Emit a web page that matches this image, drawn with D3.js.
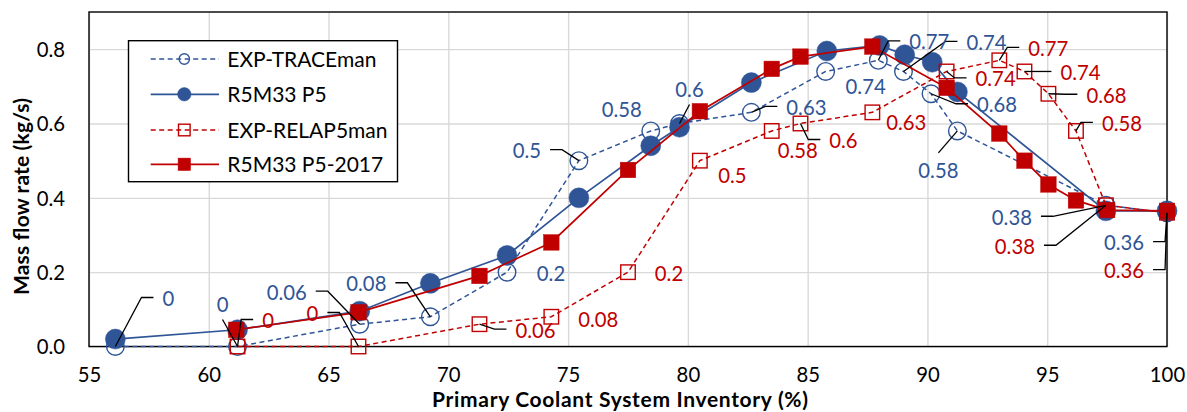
<!DOCTYPE html>
<html><head><meta charset="utf-8">
<script src="https://cdn.jsdelivr.net/npm/d3@7"></script>
<style>html,body{margin:0;padding:0;background:#fff;} svg{display:block;font-family:Lato,"Open Sans",sans-serif;}</style>
</head><body>
<svg id="chart" width="1187" height="412"></svg>
<script>
// ---------- data ----------
const xTicks = [55, 60, 65, 70, 75, 80, 85, 90, 95, 100];
const yTicks = [0, 0.2, 0.4, 0.6, 0.8];
const seriesNames = ["EXP-TRACEman", "R5M33 P5", "EXP-RELAP5man", "R5M33 P5-2017"];

const traceX = [56.1, 61.2, 66.3, 69.25, 72.45, 75.45, 78.45, 79.65, 82.65, 85.75, 87.95, 89.0, 90.15, 91.25, 97.45, 100];
const traceY = [0, 0, 0.06, 0.08, 0.2, 0.5, 0.58, 0.6, 0.63, 0.74, 0.77, 0.74, 0.68, 0.58, 0.38, 0.36];

const p5X = [56.1, 61.2, 66.3, 69.25, 72.45, 75.45, 78.45, 79.65, 82.65, 85.8, 88.0, 89.05, 90.2, 91.25, 97.45, 100];
const p5Y = [0.02, 0.045, 0.095, 0.17, 0.245, 0.40, 0.54, 0.59, 0.71, 0.795, 0.81, 0.785, 0.765, 0.685, 0.365, 0.365];

const relapX = [61.2, 66.25, 71.3, 74.3, 77.5, 80.5, 83.5, 84.7, 87.7, 90.8, 93.0, 94.05, 95.05, 96.2, 97.45, 100];
const relapY = [0, 0, 0.06, 0.08, 0.2, 0.5, 0.58, 0.6, 0.63, 0.74, 0.77, 0.74, 0.68, 0.58, 0.38, 0.36];

const p2017X = [61.15, 66.25, 71.3, 74.3, 77.5, 80.5, 83.5, 84.7, 87.7, 90.8, 93.0, 94.05, 95.05, 96.2, 97.5, 100];
const p2017Y = [0.045, 0.092, 0.19, 0.28, 0.475, 0.633, 0.747, 0.78, 0.807, 0.696, 0.573, 0.5, 0.436, 0.393, 0.367, 0.365];

// ---------- layout (label offsets in px from the point, leader side) ----------
const traceLabelLayout = [
  [53, -48, 'l'], [-15, -42, 'b'], [-73, -32, 'r'], [-64, -33, 'r'], [44, 2, null], [-52, -10, 'r'],
  [-29, -21, null], [10, -34, 'b'], [55, -5, 'l'], [40, 15, null], [51, -18.5, 'l'], [83, -29, 'l'],
  [66, 11, 'l'], [-19, 40, 't'], [-94, 12, 'r'], [-43, 30, 'r']
];
const relapLabelLayout = [
  [30.5, -26, 'l'], [-46, -33, 'r'], [56, 6, 'l'], [47, 2.5, null], [41, 2, null], [32.5, 15, null],
  [26, 20, null], [43, 17, 'l'], [34, 10, null], [49, 7.5, 'l'], [49, -12, 'l'], [56, 1, 'l'],
  [58, 1.5, 'l'], [46, -7.5, 'l'], [-91, 41, 'r'], [-43, 58, 'r']
];

const BLUE = "#2F5597", RED = "#C00000";
const FS = 20.3;

const svg = d3.select("#chart");
const plotL = 89, plotR = 1167, plotT = 12, plotB = 346.5;
const x = d3.scaleLinear().domain([55, 100]).range([plotL, plotR]);
const y = d3.scaleLinear().domain([0, 0.9]).range([plotB, plotT]);

// gridlines
const gridX = svg.append("g").attr("transform", `translate(0,${plotB})`)
  .call(d3.axisBottom(x).tickValues(xTicks).tickSize(-(plotB - plotT)).tickFormat(""));
const gridY = svg.append("g").attr("transform", `translate(${plotL},0)`)
  .call(d3.axisLeft(y).tickValues(yTicks).tickSize(-(plotR - plotL)).tickFormat(""));
[gridX, gridY].forEach(g => {
  g.select(".domain").remove();
  g.selectAll("line").attr("stroke", "#D9D9D9").attr("stroke-width", 1.4);
});

// plot border
svg.append("rect").attr("x", plotL).attr("y", plotT).attr("width", plotR - plotL).attr("height", plotB - plotT)
  .attr("fill", "none").attr("stroke", "#000").attr("stroke-width", 1.4);

// axes labels
const xAxis = svg.append("g").attr("transform", `translate(0,${plotB})`)
  .call(d3.axisBottom(x).tickValues(xTicks).tickSize(0).tickPadding(21).tickFormat(d3.format("d")));
const yAxis = svg.append("g").attr("transform", `translate(${plotL},0)`)
  .call(d3.axisLeft(y).tickValues(yTicks).tickSize(0).tickPadding(24).tickFormat(d3.format(".1f")));
[xAxis, yAxis].forEach(g => {
  g.select(".domain").remove();
  g.selectAll("text").attr("font-family", "Lato").attr("font-size", FS).attr("fill", "#000");
});
yAxis.selectAll("text").attr("dy", "0.36em");

svg.append("text").attr("x", 620).attr("y", 406.5).attr("text-anchor", "middle")
  .attr("font-weight", "bold").attr("font-size", 21).attr("fill", "#000")
  .attr("textLength", 376).attr("lengthAdjust", "spacing")
  .text("Primary Coolant System Inventory (%)");
svg.append("text").attr("transform", "translate(28.5,196.5) rotate(-90)").attr("text-anchor", "middle")
  .attr("font-weight", "bold").attr("font-size", 21).attr("fill", "#000")
  .attr("textLength", 197).attr("lengthAdjust", "spacing")
  .text("Mass flow rate (kg/s)");

// ---------- series ----------
const series = [
  { name: seriesNames[0], xs: traceX, ys: traceY, color: BLUE, dash: "5,3.5", marker: "circle", filled: false },
  { name: seriesNames[1], xs: p5X, ys: p5Y, color: BLUE, dash: null, marker: "circle", filled: true },
  { name: seriesNames[2], xs: relapX, ys: relapY, color: RED, dash: "5,3.5", marker: "square", filled: false },
  { name: seriesNames[3], xs: p2017X, ys: p2017Y, color: RED, dash: null, marker: "square", filled: true }
];

function drawMarker(g, cx, cy, s, scale) {
  const k = scale || 1;
  if (s.marker === "circle") {
    const r = (s.filled ? 10 : 9.5) * k;
    g.append("circle").attr("cx", cx).attr("cy", cy).attr("r", s.filled ? r : r - 0.7)
      .attr("fill", s.filled ? s.color : "none").attr("stroke", s.color).attr("stroke-width", s.filled ? 0.5 : 1.4);
  } else {
    const a = (s.filled ? 15.5 : 14.5) * k;
    g.append("rect").attr("x", cx - a / 2).attr("y", cy - a / 2).attr("width", a).attr("height", a)
      .attr("fill", s.filled ? s.color : "none").attr("stroke", s.color).attr("stroke-width", s.filled ? 0.5 : 1.4);
  }
}

const line = d3.line().x(d => x(d[0])).y(d => y(d[1]));
const plotG = svg.append("g");
series.forEach(s => {
  const pts = s.xs.map((v, i) => [v, s.ys[i]]);
  plotG.append("path").attr("d", line(pts)).attr("fill", "none").attr("stroke", s.color)
    .attr("stroke-width", s.filled ? 1.7 : 1.5).attr("stroke-dasharray", s.dash);
  const mg = plotG.append("g");
  pts.forEach(p => drawMarker(mg, x(p[0]), y(p[1]), s));
});

// ---------- data labels with leader lines ----------
const leaderG = svg.append("g");
const labelG = svg.append("g");
function drawLabels(xs, ys, layout, color) {
  ys.forEach((v, i) => {
    const px = x(xs[i]), py = y(v);
    const [dx, dy, side] = layout[i];
    const cx = px + dx, cy = py + dy;
    const t = labelG.append("text").attr("x", cx).attr("y", cy + 0.36 * FS).attr("text-anchor", "middle")
      .attr("font-size", FS).attr("fill", color).text(String(v));
    if (!side) return;
    const w = t.node().getComputedTextLength();
    let pts;
    if (side === "l") { const x1 = cx - w / 2; pts = [[x1 - 9, cy - 1], [x1 - 21, cy - 1], [px, py]]; }
    else if (side === "r") { const x2 = cx + w / 2; pts = [[x2 + 9, cy - 1], [x2 + 21, cy - 1], [px, py]]; }
    else if (side === "b") { pts = [[cx, cy + 15], [px, py]]; }
    else { pts = [[cx, cy - 18], [px, py]]; }
    leaderG.append("path").attr("d", d3.line()(pts)).attr("fill", "none").attr("stroke", "#000").attr("stroke-width", 1.3);
  });
}
drawLabels(traceX, traceY, traceLabelLayout, BLUE);
drawLabels(relapX, relapY, relapLabelLayout, RED);

// ---------- legend ----------
const lg = svg.append("g");
lg.append("rect").attr("x", 128.5).attr("y", 40.7).attr("width", 269).attr("height", 141)
  .attr("fill", "#fff").attr("stroke", "#000").attr("stroke-width", 1.4);
const rowY = [59, 94.3, 130, 164.3];
series.forEach((s, i) => {
  const yy = rowY[i];
  lg.append("line").attr("x1", 150.7).attr("x2", 219).attr("y1", yy).attr("y2", yy)
    .attr("stroke", s.color).attr("stroke-width", s.filled ? 1.7 : 1.5).attr("stroke-dasharray", s.dash);
  drawMarker(lg, 184.3, yy, s, s.marker === "circle" ? (s.filled ? 0.67 : 0.62) : 0.8);
  lg.append("text").attr("x", 227.3).attr("y", yy + 0.36 * 21).attr("font-size", 21).attr("fill", "#000").text(s.name);
});
</script>
</body></html>
